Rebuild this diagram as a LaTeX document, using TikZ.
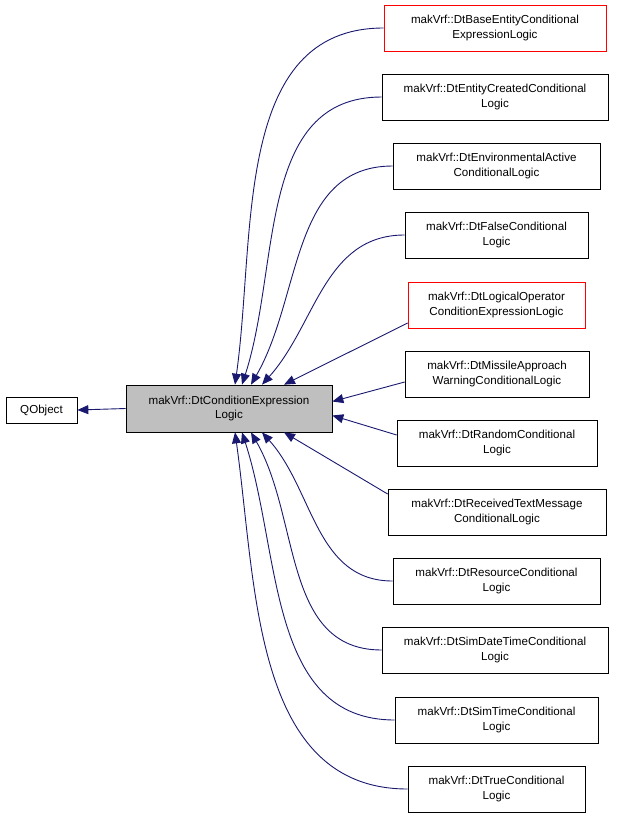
\documentclass[tikz,border=0pt]{standalone}
\usepackage{fontspec}
\setmainfont{Liberation Sans}
\usetikzlibrary{arrows.meta}
\definecolor{navy}{RGB}{25,25,112}
\begin{document}
\begin{tikzpicture}[x=1pt,y=-1pt,
 box/.style={draw=black,fill=white,align=center,font=\fontsize{11.6}{14.5}\selectfont,inner sep=0pt,line width=0.7pt},
 red/.style={draw=red},
 ed/.style={draw=navy,line width=0.9pt,-{Triangle[length=11pt,width=9pt,fill=navy]}}]
\useasboundingbox (0,0) rectangle (619,819);
\newcommand{\bx}[6]{\node[box,#6,minimum width=#3-#2,minimum height=46] (#1) at ({(#2+#3)/2},#4) {#5};}
\node[box,minimum width=71,minimum height=26] (q) at (41.5,410) {QObject};
\node[box,fill={rgb,255:red,191;green,191;blue,191},minimum width=206,minimum height=47] (c) at (229,408.5) {makVrf::DtConditionExpression\\Logic};
\bx{n1}{384}{606}{28}{makVrf::DtBaseEntityConditional\\ExpressionLogic}{red}
\bx{n2}{382}{608}{97}{makVrf::DtEntityCreatedConditional\\Logic}{}
\bx{n3}{393}{600}{166}{makVrf::DtEnvironmentalActive\\ConditionalLogic}{}
\bx{n4}{405}{588}{235}{makVrf::DtFalseConditional\\Logic}{}
\bx{n5}{408}{585}{305}{makVrf::DtLogicalOperator\\ConditionExpressionLogic}{red}
\bx{n6}{405}{589}{374}{makVrf::DtMissileApproach\\WarningConditionalLogic}{}
\bx{n7}{397}{597}{443}{makVrf::DtRandomConditional\\Logic}{}
\bx{n8}{388}{606}{512}{makVrf::DtReceivedTextMessage\\ConditionalLogic}{}
\bx{n9}{393}{600}{581}{makVrf::DtResourceConditional\\Logic}{}
\bx{n10}{382}{608}{650}{makVrf::DtSimDateTimeConditional\\Logic}{}
\bx{n11}{395}{598}{720}{makVrf::DtSimTimeConditional\\Logic}{}
\bx{n12}{408}{585}{789}{makVrf::DtTrueConditional\\Logic}{}
\draw[ed] (c.west) -- (q.east);
\draw[ed] (n1.west) to[out=180,in=82] ([xshift=6]c.north);
\draw[ed] (n2.west) to[out=180,in=72] ([xshift=13]c.north);
\draw[ed] (n3.west) to[out=180,in=60] ([xshift=22]c.north);
\draw[ed] (n4.west) to[out=180,in=48] ([xshift=33]c.north);
\draw[ed] ([yshift=-18]n5.west) -- ([xshift=55]c.north);
\draw[ed] ([yshift=-8]n6.west) -- ([yshift=7]c.east);
\draw[ed] ([yshift=8]n7.west) -- ([yshift=-7]c.east);
\draw[ed] ([yshift=18]n8.west) -- ([xshift=55]c.south);
\draw[ed] (n9.west) to[out=180,in=-48] ([xshift=33]c.south);
\draw[ed] (n10.west) to[out=180,in=-60] ([xshift=22]c.south);
\draw[ed] (n11.west) to[out=180,in=-72] ([xshift=13]c.south);
\draw[ed] (n12.west) to[out=180,in=-82] ([xshift=6]c.south);
\end{tikzpicture}
\end{document}
